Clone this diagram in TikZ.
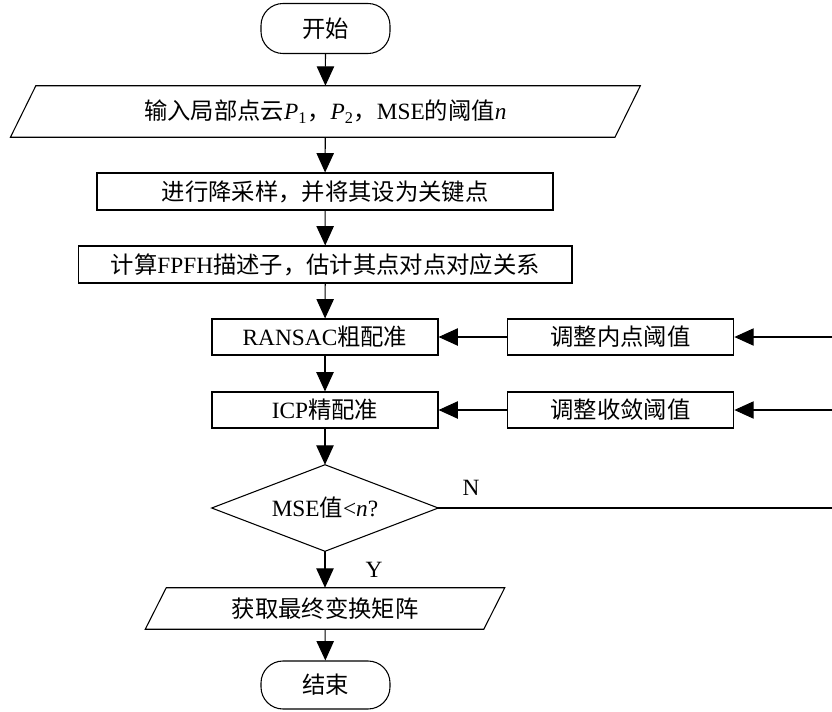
\documentclass[tikz,border=0pt]{standalone}
\usepackage{fontspec}
\setmainfont{Liberation Serif}
\newfontfamily\cjk{Noto Sans CJK SC}
\usetikzlibrary{arrows.meta,calc}
\newcommand{\zh}[1]{{\cjk #1}}
\begin{document}
\begin{tikzpicture}[x=0.75pt,y=-0.75pt,
  every node/.style={font=\fontsize{17.5}{20}\selectfont, inner sep=0pt},
  ln/.style={line width=0.8pt},
  box/.style={draw, ln, rectangle},
  term/.style={draw, ln, rectangle, rounded corners=16.5pt, minimum width=96.75pt},
  arr/.style={ln, -{Triangle[length=14.5pt,width=13pt]}}]
\useasboundingbox (0,0) rectangle (832,711);
% nodes
\node[term, minimum height=37.5pt] (start) at (325.5,28.5) {\zh{开始}};
\node[minimum width=453pt, minimum height=38.25pt] (in) at (325.4,111.5)
  {\zh{输入局部点云}\textit{P}\textsubscript{1}\zh{，}\textit{P}\textsubscript{2}\zh{，}MSE\zh{的阈值}\textit{n}};
\node[box, minimum width=342pt, minimum height=27.75pt] (r1) at (325,191.5) {\zh{进行降采样，并将其设为关键点}};
\node[box, minimum width=370pt, minimum height=27.75pt] (r2) at (325.3,264.5) {\zh{计算}FPFH\zh{描述子，估计其点对点对应关系}};
\node[box, minimum width=169.5pt, minimum height=27pt] (ransac) at (325,337) {RANSAC\zh{粗配准}};
\node[box, minimum width=170pt, minimum height=27pt] (adj1) at (620.5,337) {\zh{调整内点阈值}};
\node[box, minimum width=169.5pt, minimum height=27pt] (icp) at (325,410) {ICP\zh{精配准}};
\node[box, minimum width=170pt, minimum height=27pt] (adj2) at (620.5,410) {\zh{调整收敛阈值}};
\node[minimum width=169.5pt, minimum height=64.5pt] (d) at (325,508) {MSE\zh{值}<\textit{n}?};
\node[minimum width=253.5pt, minimum height=30.75pt] (out) at (325,608.5) {\zh{获取最终变换矩阵}};
\node[term, minimum height=36pt] (end) at (325.5,685) {\zh{结束}};
\node (N) at (471,488) {N};
\node (Y) at (374,570) {Y};
\coordinate (e0) at (832,508);
\coordinate (e1) at (832,337);
\coordinate (e2) at (832,410);
% shapes
\draw[ln] ($(in.north west)+(12.7,0)$) -- ($(in.north east)+(12.7,0)$) -- ($(in.south east)+(-12.7,0)$) -- ($(in.south west)+(-12.7,0)$) -- cycle;
\draw[ln] ($(out.north west)+(10.5,0)$) -- ($(out.north east)+(10.5,0)$) -- ($(out.south east)+(-10.5,0)$) -- ($(out.south west)+(-10.5,0)$) -- cycle;
\draw[ln] (d.north) -- (d.east) -- (d.south) -- (d.west) -- cycle;
% connectors
\draw[arr] (start) -- (in);
\draw[arr] (in) -- (r1);
\draw[arr] (r1) -- (r2);
\draw[arr] (r2) -- (ransac);
\draw[arr] (ransac) -- (icp);
\draw[arr] (icp) -- (d);
\draw[arr] (d) -- (out);
\draw[arr] (out) -- (end);
\draw[arr] (adj1) -- (ransac);
\draw[arr] (adj2) -- (icp);
\draw[arr] (e1) -- (adj1);
\draw[arr] (e2) -- (adj2);
\draw[ln] (d.east) -- (e0);
\end{tikzpicture}
\end{document}
